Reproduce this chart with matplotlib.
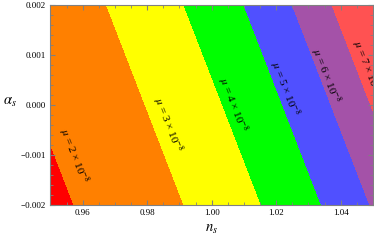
import numpy as np
import matplotlib
matplotlib.use('Agg')
import matplotlib.pyplot as plt
from matplotlib.ticker import MultipleLocator, FuncFormatter

plt.rcParams['font.family'] = ['Liberation Serif', 'DejaVu Serif']
plt.rcParams['mathtext.fontset'] = 'stix'

# contour levels of mu (units of 1e-8) and where each line crosses alpha_s = 0
mu_levels = [2, 3, 4, 5, 6, 7]
ns_at_zero = [0.9453, 0.9794, 1.0034, 1.0220, 1.0370, 1.0493]
tilt = 6.0  # d n_s / d alpha_s along a contour (sign flipped)

colors = ['#ff0000', '#ff8000', '#ffff00', '#00ff00', '#5050ff', '#a452a8', '#ff5252']

label_ns = [0.9570, 0.9864, 1.0064, 1.0225, 1.0352, 1.0480]
label_as = [-0.00101, -0.00040, 0.00000, 0.00033, 0.00059, 0.00075]

# field from the read crossings, log-linear between, end slopes outside
logmu = np.log(mu_levels)
def field(neff):
    out = np.interp(neff, ns_at_zero, logmu)
    s0 = (logmu[1] - logmu[0]) / (ns_at_zero[1] - ns_at_zero[0])
    s1 = (logmu[-1] - logmu[-2]) / (ns_at_zero[-1] - ns_at_zero[-2])
    out = np.where(neff < ns_at_zero[0], logmu[0] + s0 * (neff - ns_at_zero[0]), out)
    out = np.where(neff > ns_at_zero[-1], logmu[-1] + s1 * (neff - ns_at_zero[-1]), out)
    return np.exp(out)

ns = np.linspace(0.95, 1.05, 400)
al = np.linspace(-0.002, 0.002, 400)
N, A = np.meshgrid(ns, al)
Z = field(N + tilt * A)

fig = plt.figure(figsize=(3.74, 2.40), dpi=100)
ax = fig.add_axes([50.4 / 374, 35 / 240, 322.6 / 374, 200 / 240])
ax.contourf(N, A, Z, levels=[0] + mu_levels + [100], colors=colors)

for m, x, y in zip(mu_levels, label_ns, label_as):
    ax.text(x, y, '$\\mu$ = %d \u00d7 10$^{\u22128}$' % m,
            rotation=-68.8, ha='center', va='center', fontsize=8, clip_on=True,
            rotation_mode='anchor')

ax.set_xlim(0.95, 1.05)
ax.set_ylim(-0.002, 0.002)
ax.xaxis.set_major_locator(MultipleLocator(0.02))
ax.xaxis.set_minor_locator(MultipleLocator(0.005))
ax.yaxis.set_major_locator(MultipleLocator(0.001))
ax.yaxis.set_minor_locator(MultipleLocator(0.0002))
ax.xaxis.set_major_formatter(FuncFormatter(lambda v, p: ('%.2f' % v).replace('-', '\u2212')))
ax.yaxis.set_major_formatter(FuncFormatter(lambda v, p: ('%.3f' % (v + 0.0)).replace('-', '\u2212')))
ax.tick_params(which='both', direction='in', top=True, right=True,
               color='#808080', labelsize=6.5, pad=3)
ax.tick_params(which='major', length=3.5)
ax.tick_params(which='minor', length=2)
for sp in ax.spines.values():
    sp.set_color('#808080')
    sp.set_linewidth(0.8)

ax.set_xlabel(r'$n_s$', fontsize=10.5)
ax.set_ylabel(r'$\alpha_s$', fontsize=10.5, rotation=0)
ax.yaxis.set_label_coords(-0.125, 0.48)

fig.savefig('out.png', dpi=100)
